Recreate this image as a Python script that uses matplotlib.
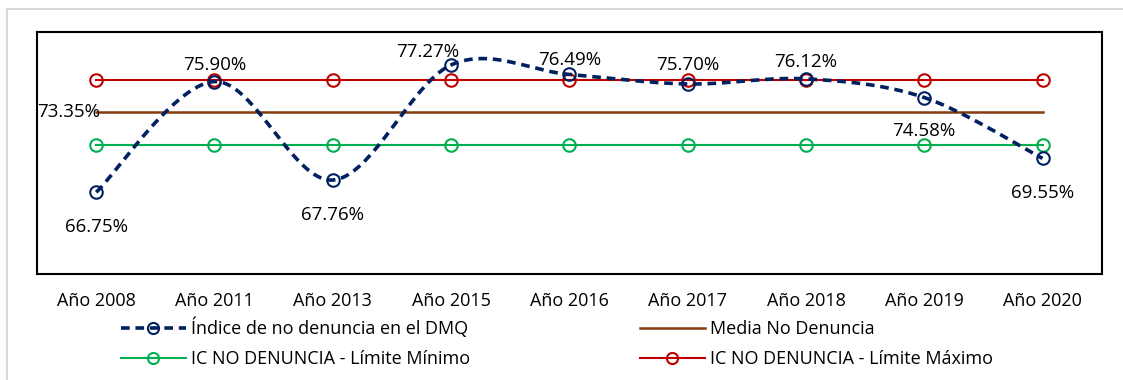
import numpy as np
import matplotlib
matplotlib.use("Agg")
import matplotlib.pyplot as plt
from matplotlib.lines import Line2D
from matplotlib.patches import Rectangle

plt.rcParams['font.family'] = ['Open Sans', 'DejaVu Sans']

years = ["Año 2008", "Año 2011", "Año 2013", "Año 2015", "Año 2016",
         "Año 2017", "Año 2018", "Año 2019", "Año 2020"]
indice = [66.75, 75.90, 67.76, 77.27, 76.49, 75.70, 76.12, 74.58, 69.55]
media = [73.35] * 9
lim_min = [70.65] * 9
lim_max = [76.05] * 9

navy = "#002060"
red = "#C00000"
green = "#00B050"
brown = "#843C0C"


def smooth(x, y, n=40):
    # Catmull-Rom style bezier through every point (like a spreadsheet "smoothed line")
    x = np.asarray(x, float)
    y = np.asarray(y, float)
    px, py = [], []
    k = len(x)
    for i in range(k - 1):
        i0 = max(i - 1, 0)
        i3 = min(i + 2, k - 1)
        p0 = np.array([x[i0], y[i0]])
        p1 = np.array([x[i], y[i]])
        p2 = np.array([x[i + 1], y[i + 1]])
        p3 = np.array([x[i3], y[i3]])
        b1 = p1 + (p2 - p0) / 6
        b2 = p2 - (p3 - p1) / 6
        t = np.linspace(0, 1, n)[:, None]
        seg = ((1 - t) ** 3) * p1 + 3 * ((1 - t) ** 2) * t * b1 + 3 * (1 - t) * t ** 2 * b2 + t ** 3 * p2
        if i > 0:
            seg = seg[1:]
        px.extend(seg[:, 0])
        py.extend(seg[:, 1])
    return np.array(px), np.array(py)


fig = plt.figure(figsize=(11.23, 3.80), dpi=100)
ax = fig.add_axes([0.033, 0.279, 0.948, 0.637])

x = np.arange(len(years))

mk = dict(marker="o", markersize=9, markerfacecolor="none", markeredgewidth=1.5)
ax.plot(x, lim_max, color=red, lw=1.5, markeredgecolor=red, **mk, zorder=3)
ax.plot(x, media, color=brown, lw=1.8, zorder=2)
ax.plot(x, lim_min, color=green, lw=1.5, markeredgecolor=green, **mk, zorder=3)

sx, sy = smooth(x, indice)
ax.plot(sx, sy, color=navy, lw=2.6, dashes=(2.4, 1.6), zorder=4)
ax.plot(x, indice, ls="none", markeredgecolor=navy, **mk, zorder=5)

# data labels (offsets in points from each marker)
offsets = [(0, -25), (0, 12), (0, -25), (-17, 9.5), (0, 10.5), (0, 13.5), (0, 12), (0, -24), (0, -25)]
for xi, v, (dx, dy) in zip(x, indice, offsets):
    ax.annotate(f"{v:.2f}%", (xi, v), xytext=(dx, dy), textcoords="offset points",
                ha="center", va="center", fontsize=13.5, color="black", zorder=6)
ax.annotate(f"{media[0]:.2f}%", (x[0], media[0]), xytext=(-20, 0), textcoords="offset points",
            ha="center", va="center", fontsize=13.5, color="black", zorder=6)

ax.set_xlim(-0.5, len(years) - 0.5)
ax.set_ylim(60, 80)
ax.set_xticks(x)
ax.set_xticklabels(years, fontsize=13)
ax.tick_params(axis="x", length=0, pad=13)
ax.set_yticks([])
for s in ax.spines.values():
    s.set_color("black")
    s.set_linewidth(1.5)

handles = [
    Line2D([], [], color=navy, lw=2.6, dashes=(2.4, 1.6), marker="o", markersize=8,
           markerfacecolor="none", markeredgecolor=navy, markeredgewidth=1.5),
    Line2D([], [], color=green, lw=1.5, marker="o", markersize=8,
           markerfacecolor="none", markeredgecolor=green, markeredgewidth=1.5),
    Line2D([], [], color=brown, lw=1.8),
    Line2D([], [], color=red, lw=1.5, marker="o", markersize=8,
           markerfacecolor="none", markeredgecolor=red, markeredgewidth=1.5),
]
labels = ["Índice de no denuncia en el DMQ", "IC NO DENUNCIA - Límite Mínimo",
          "Media No Denuncia", "IC NO DENUNCIA - Límite Máximo"]
fig.legend(handles, labels, ncol=2, loc="center", bbox_to_anchor=(0.496, 0.098),
           frameon=False, fontsize=13, handlelength=3.6, columnspacing=9.4,
           labelspacing=0.68, handletextpad=0.3)

fig.add_artist(Rectangle((0.006, -0.1), 1.2, 1.076, transform=fig.transFigure,
                         fill=False, edgecolor="#D9D9D9", lw=1.5))

fig.savefig("out.png", dpi=100)
